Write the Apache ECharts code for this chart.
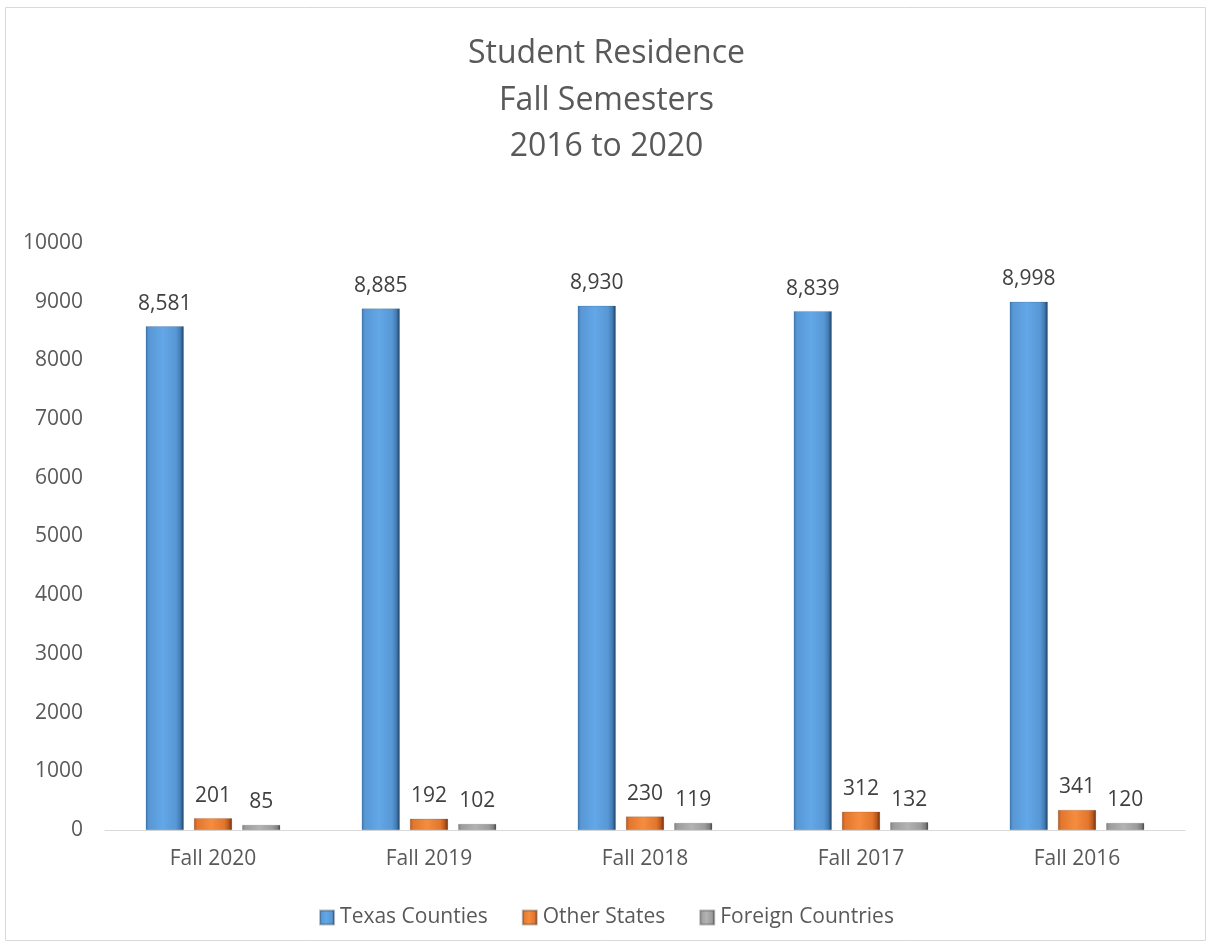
<!DOCTYPE html>
<html><head><meta charset="utf-8">
<script src="https://cdn.jsdelivr.net/npm/echarts@6/dist/echarts.min.js"></script>
<style>html,body{margin:0;padding:0;background:#fff}#c{width:1213px;height:946px}</style>
</head><body><div id="c"></div>
<script>
const categories = ['Fall 2020','Fall 2019','Fall 2018','Fall 2017','Fall 2016'];
const texasCounties = [8581, 8885, 8930, 8839, 8998];
const otherStates = [201, 192, 230, 312, 341];
const foreignCountries = [85, 102, 119, 132, 120];
const seriesNames = ['Texas Counties','Other States','Foreign Countries'];
const titleLines = ['Student Residence','Fall Semesters','2016 to 2020'];

function grad(dark, mid, light, edge){
  return {type:'linear',x:0,y:0,x2:1,y2:0,colorStops:[
    {offset:0,color:dark},{offset:0.08,color:mid},{offset:0.45,color:light},
    {offset:0.8,color:mid},{offset:0.92,color:dark},{offset:1,color:edge}]};
}
const styles = [
  grad('#3f79b2','#5797d4','#63a7e8','#1d3a58'),
  grad('#b8561c','#e2762d','#f58d3f','#6a2e0c'),
  grad('#7f7f7f','#9c9c9c','#b3b3b3','#4a4a4a')
];
const font = '"Open Sans", "Noto Sans", sans-serif';
const chart = echarts.init(document.getElementById('c'));
const data = [texasCounties, otherStates, foreignCountries];
chart.setOption({
  animation:false,
  textStyle:{fontFamily:font},
  graphic:[{type:'rect',shape:{x:5.5,y:7.5,width:1200,height:933},style:{fill:null,stroke:'#d9d9d9',lineWidth:1}}],
  title:{text:titleLines.join('\n'),left:'center',top:26,
    textStyle:{fontFamily:font,fontSize:32,fontWeight:'normal',color:'#595959',lineHeight:46.5}},
  legend:{bottom:13,left:'center',itemWidth:14,itemHeight:14,itemGap:34,icon:'rect',
    textStyle:{fontFamily:font,fontSize:21,color:'#595959',padding:[0,0,0,1]},
    data:seriesNames.map((n,i)=>({name:n,itemStyle:{color:styles[i]}}))},
  grid:{left:105,right:28,top:243,bottom:116},
  xAxis:{type:'category',data:categories,
    axisLine:{lineStyle:{color:'#d9d9d9'}},axisTick:{show:false},
    axisLabel:{fontFamily:font,fontSize:21,color:'#595959',margin:19}},
  yAxis:{type:'value',min:0,max:10000,interval:1000,
    axisLine:{show:false},axisTick:{show:false},splitLine:{show:false},
    axisLabel:{fontFamily:font,fontSize:21,color:'#595959',margin:22,formatter:v=>String(v)}},
  series:data.map((d,i)=>({name:seriesNames[i],type:'bar',data:d,barWidth:38,barGap:'27%',
    itemStyle:{color:styles[i],borderColor:'rgba(0,0,0,0.25)',borderWidth:0.5},
    label:{show:true,position:'top',distance:12,fontFamily:font,fontSize:21,color:'#404040',
      formatter:p=>p.value.toLocaleString('en-US')}}))
});
</script></body></html>
